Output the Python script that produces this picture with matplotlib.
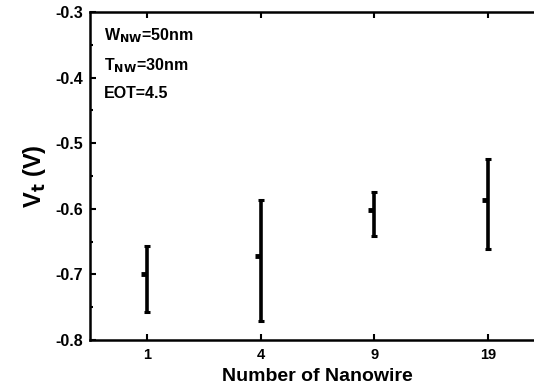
import numpy as np
import matplotlib.pyplot as plt

plt.rcParams['font.family'] = 'Liberation Sans'
plt.rcParams['font.weight'] = 'bold'

# data
categories = ['1', '4', '9', '19']
vt_mean = [-0.700, -0.672, -0.602, -0.587]
vt_top = [-0.657, -0.586, -0.575, -0.524]
vt_bottom = [-0.758, -0.771, -0.642, -0.662]

x = np.arange(len(categories))
mean = np.array(vt_mean)
err = [mean - np.array(vt_bottom), np.array(vt_top) - mean]

fig = plt.figure(figsize=(5.34, 3.92), dpi=100)
# right edge of the axes runs past the figure, like the cropped original
ax = fig.add_axes([90/534, 1 - 340/392, 455/534, 328/392])

ax.errorbar(x, mean, yerr=err, fmt='none', ecolor='black', elinewidth=2.6,
            capsize=2.5, capthick=2.2)
# short dash on the left of each bar marks the mean
ax.plot(x, mean, linestyle='none', marker=0, markersize=4.5, mew=3.5, color='black')

ax.set_xlim(-0.5, 3.5)
ax.set_ylim(-0.8, -0.3)
ax.set_xticks(x)
ax.set_xticklabels(categories)
ax.set_yticks([-0.8, -0.7, -0.6, -0.5, -0.4, -0.3])
ax.set_yticklabels(['-0.8', '-0.7', '-0.6', '-0.5', '-0.4', '-0.3'])
ax.set_yticks(np.arange(-0.75, -0.3, 0.1), minor=True)

ax.tick_params(direction='in', which='both', top=True, width=1.5)
ax.tick_params(axis='y', labelsize=11.5, pad=5)
ax.tick_params(axis='x', labelsize=10.5, pad=6)
ax.tick_params(which='major', length=4)
ax.tick_params(which='minor', length=2.5)
for s in ax.spines.values():
    s.set_linewidth(1.8)

ax.set_xlabel('Number of Nanowire', fontsize=14, fontweight='bold', labelpad=4)
ax.set_ylabel('V$_\\mathbf{t}$ (V)', fontsize=17, fontweight='bold', labelpad=5)

ax.text(0.03, 0.955, r'W$_\mathbf{NW}$=50nm', transform=ax.transAxes, fontsize=11.5, va='top')
ax.text(0.03, 0.865, r'T$_\mathbf{NW}$=30nm', transform=ax.transAxes, fontsize=11.5, va='top')
ax.text(0.03, 0.775, 'EOT=4.5', transform=ax.transAxes, fontsize=11.5, va='top')

plt.savefig('out.png', dpi=100)
